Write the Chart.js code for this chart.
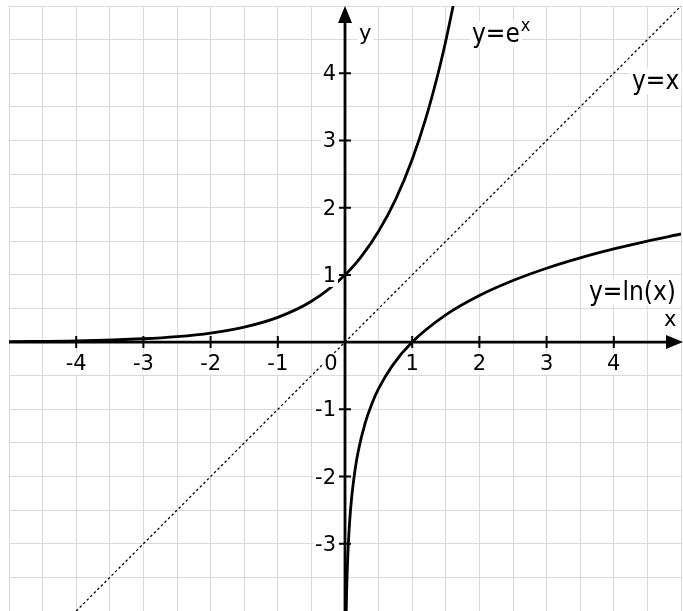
<!DOCTYPE html>
<html>
<head>
<meta charset="utf-8">
<script src="https://cdn.jsdelivr.net/npm/chart.js@4/dist/chart.umd.min.js"></script>
<style>
  html, body { margin: 0; padding: 0; background: #fff; }
  canvas { display: block; }
</style>
</head>
<body>
<canvas id="myChart" width="683" height="611"></canvas>
<script>
// curve points
var expX = [-5, -4, -3, -2.5, -2, -1.5, -1, -0.5, 0, 0.25, 0.5, 0.75, 1, 1.2, 1.4, 1.5, 1.609];
var expY = [0.007, 0.018, 0.05, 0.082, 0.135, 0.223, 0.368, 0.607, 1, 1.284, 1.649, 2.117, 2.718, 3.32, 4.055, 4.482, 5];

var lnX = [0.018, 0.022, 0.03, 0.04, 0.05, 0.07, 0.1, 0.15, 0.2, 0.3, 0.4, 0.5, 0.7, 1, 1.5, 2, 2.5, 3, 3.5, 4, 4.5, 5];
var lnY = [-4.017, -3.817, -3.507, -3.219, -2.996, -2.659, -2.303, -1.897, -1.609, -1.204, -0.916, -0.693, -0.357, 0, 0.405, 0.693, 0.916, 1.099, 1.253, 1.386, 1.504, 1.609];

var idX = [-4, 5];
var idY = [-4, 5];

// axis tick labels
var xTicks = [-4, -3, -2, -1, 0, 1, 2, 3, 4];
var yTicks = [-3, -2, -1, 1, 2, 3, 4];

function pts(xs, ys) {
  return xs.map(function(x, i) { return {x: x, y: ys[i]}; });
}

var labelFont = '"DejaVu Sans Condensed", "DejaVu Sans", sans-serif';
var tickFont = '"DejaVu Sans", sans-serif';

function boxText(ctx, txt, x, y, align, base, size, family) {
  ctx.font = size + 'px ' + family;
  ctx.textAlign = align;
  ctx.textBaseline = base;
  var w = ctx.measureText(txt).width;
  var left = align === 'center' ? x - w / 2 : (align === 'right' ? x - w : x);
  var top = base === 'middle' ? y - size * 0.5 : y - size * 0.8;
  ctx.fillStyle = '#fff';
  ctx.fillRect(left - 2, top, w + 4, size);
  ctx.fillStyle = '#000';
  ctx.fillText(txt, x, y);
  return w;
}

var axesPlugin = {
  id: 'axes',
  beforeDatasetsDraw: function(chart) {
    var ctx = chart.ctx;
    var xs = chart.scales.x, ys = chart.scales.y;
    var ca = chart.chartArea;
    var ox = xs.getPixelForValue(0), oy = ys.getPixelForValue(0);
    var xTip = xs.getPixelForValue(5) + 2;
    var yTip = ys.getPixelForValue(5);
    ctx.save();
    ctx.strokeStyle = '#000';
    ctx.fillStyle = '#000';
    ctx.lineWidth = 2.8;
    ctx.beginPath();
    ctx.moveTo(ca.left, oy); ctx.lineTo(xTip - 10, oy);
    ctx.moveTo(ox, ca.bottom); ctx.lineTo(ox, yTip + 10);
    ctx.stroke();
    // arrows
    ctx.beginPath();
    ctx.moveTo(xTip, oy); ctx.lineTo(xTip - 17, oy - 7); ctx.lineTo(xTip - 17, oy + 7); ctx.closePath();
    ctx.fill();
    ctx.beginPath();
    ctx.moveTo(ox, yTip); ctx.lineTo(ox - 7, yTip + 17); ctx.lineTo(ox + 7, yTip + 17); ctx.closePath();
    ctx.fill();
    // tick marks
    ctx.lineWidth = 2;
    ctx.beginPath();
    xTicks.forEach(function(v) {
      if (v === 0) return;
      var p = xs.getPixelForValue(v);
      ctx.moveTo(p, oy - 6); ctx.lineTo(p, oy + 6);
    });
    yTicks.forEach(function(v) {
      var p = ys.getPixelForValue(v);
      ctx.moveTo(ox - 6, p); ctx.lineTo(ox + 6, p);
    });
    ctx.stroke();
    ctx.restore();
  },
  afterDatasetsDraw: function(chart) {
    var ctx = chart.ctx;
    var xs = chart.scales.x, ys = chart.scales.y;
    var ox = xs.getPixelForValue(0), oy = ys.getPixelForValue(0);
    ctx.save();
    xTicks.forEach(function(v) {
      var p = v === 0 ? ox - 14 : xs.getPixelForValue(v);
      boxText(ctx, String(v), p, oy + 28, 'center', 'alphabetic', 21, tickFont);
    });
    yTicks.forEach(function(v) {
      boxText(ctx, String(v), ox - 9, ys.getPixelForValue(v) + 1.5, 'right', 'middle', 21, tickFont);
    });
    // axis names
    boxText(ctx, 'x', 664, 326, 'left', 'alphabetic', 21, tickFont);
    boxText(ctx, 'y', 359, 40, 'left', 'alphabetic', 21, tickFont);
    // curve names
    var w = boxText(ctx, 'y=e', 472, 42, 'left', 'alphabetic', 26, labelFont);
    boxText(ctx, 'x', 472 + w + 1, 31, 'left', 'alphabetic', 18, labelFont);
    boxText(ctx, 'y=x', 632, 89, 'left', 'alphabetic', 26, labelFont);
    boxText(ctx, 'y=ln(x)', 589, 300, 'left', 'alphabetic', 26, labelFont);
    ctx.restore();
  }
};

var ctx = document.getElementById('myChart').getContext('2d');
var chart = new Chart(ctx, {
  type: 'scatter',
  data: {
    datasets: [{
      label: 'y=x',
      data: pts(idX, idY),
      showLine: true,
      borderColor: '#000',
      borderWidth: 1.3,
      borderDash: [2.5, 2.5],
      pointRadius: 0
    },
    {
      label: 'y=e^x',
      data: pts(expX, expY),
      showLine: true,
      borderColor: '#000',
      borderWidth: 2.8,
      cubicInterpolationMode: 'monotone',
      pointRadius: 0
    },
    {
      label: 'y=ln(x)',
      data: pts(lnX, lnY),
      showLine: true,
      borderColor: '#000',
      borderWidth: 2.8,
      cubicInterpolationMode: 'monotone',
      pointRadius: 0
    }]
  },
  options: {
    responsive: false,
    animation: false,
    devicePixelRatio: 1,
    layout: { padding: { left: 9, right: 2, top: 6, bottom: 0 } },
    plugins: { legend: { display: false }, tooltip: { enabled: false } },
    scales: {
      x: {
        type: 'linear', min: -5, max: 5,
        ticks: { display: false, stepSize: 0.5 },
        grid: { color: '#dadada', drawTicks: false },
        border: { display: false }
      },
      y: {
        type: 'linear', min: -4, max: 5,
        ticks: { display: false, stepSize: 0.5 },
        grid: { color: '#dadada', drawTicks: false },
        border: { display: false }
      }
    }
  },
  plugins: [axesPlugin]
});
</script>
</body>
</html>
